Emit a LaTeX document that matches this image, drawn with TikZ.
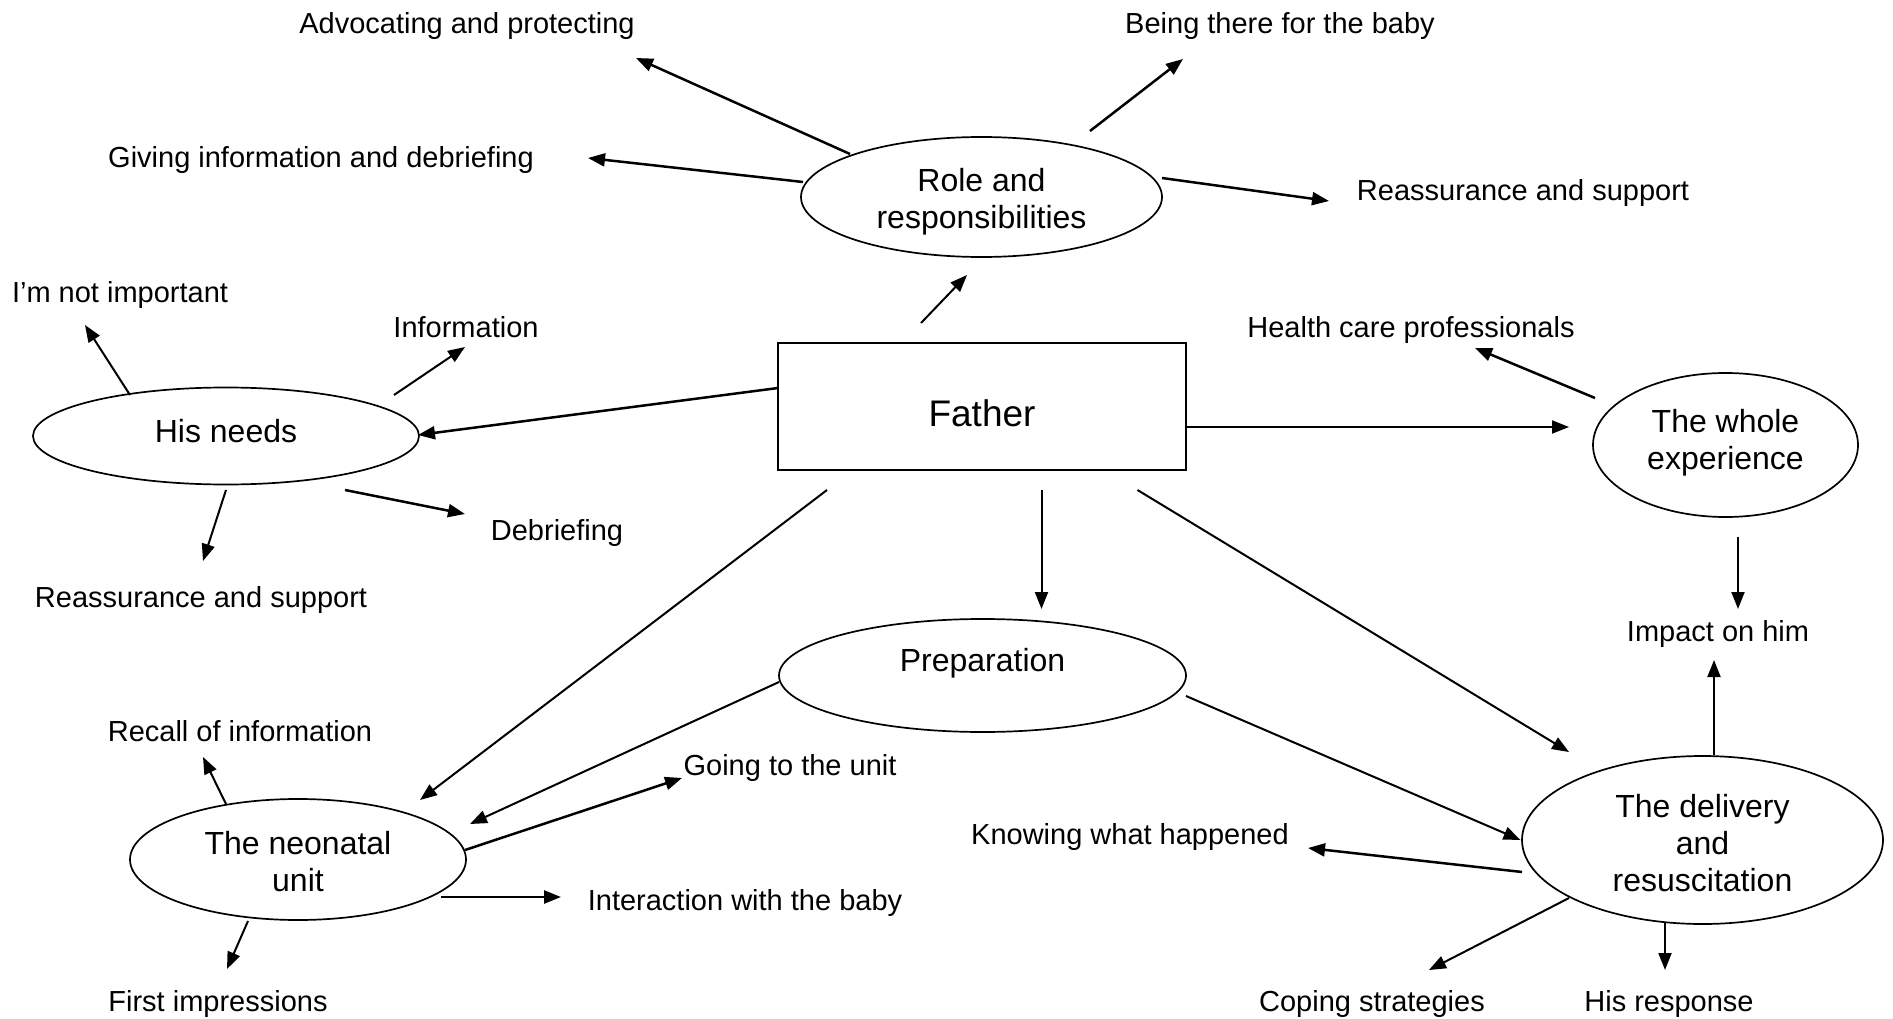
\documentclass[tikz,border=0pt]{standalone}
\usepackage{fontspec}
\setmainfont{Liberation Sans}
\usetikzlibrary{shapes.geometric,arrows.meta}
\begin{document}
\begin{tikzpicture}[x=1pt,y=-1pt,
  leaf/.style={font=\fontsize{29}{34}\selectfont, inner sep=0pt},
  topic/.style={ellipse, draw, line width=1.7pt, inner sep=0pt, align=center, font=\fontsize{32}{37}\selectfont},
  tlabel/.style={font=\fontsize{32}{37}\selectfont, align=center, inner sep=0pt},
  arr/.style={line width=2.5pt, -{Triangle[length=17pt,width=13pt]}},
  longarr/.style={line width=2pt, -{Triangle[length=17pt,width=13pt]}},
]
\useasboundingbox (0,0) rectangle (1893,1019);

% central node
\node[draw, line width=2pt, minimum width=408pt, minimum height=127pt, inner sep=0pt,
      font=\fontsize{37}{40}\selectfont] (father) at (982,406.5) {\raisebox{-7pt}[\height][\depth]{Father}};

% topic ellipses
\node[topic, minimum width=361pt, minimum height=120pt,
      label={[tlabel, yshift=-4.7pt]center:Role and\\responsibilities}] (role) at (981.5,197) {};
\node[topic, minimum width=386pt, minimum height=97pt] (needs) at (226,436) {\raisebox{5pt}[\height][\depth]{His needs}};
\node[topic, minimum width=265pt, minimum height=144pt,
      label={[tlabel, yshift=2pt]center:The whole\\experience}] (whole) at (1725.5,445) {};
\node[topic, minimum width=407pt, minimum height=113pt] (prep) at (982.5,675.5) {\raisebox{12pt}[\height][\depth]{Preparation}};
\node[topic, minimum width=336pt, minimum height=121pt,
      label={[tlabel, yshift=-2.4pt]center:The neonatal\\unit}] (neo) at (298,859.5) {};
\node[topic, minimum width=361pt, minimum height=168pt,
      label={[tlabel, yshift=-3.4pt]center:The delivery\\and\\resuscitation}] (deliv) at (1702.5,840) {};

% leaf labels
\node[leaf] (adv) at (467,26) {Advocating and protecting};
\node[leaf] (being) at (1280,26) {Being there for the baby};
\node[leaf] (giving) at (321,160.5) {Giving information and debriefing};
\node[leaf] (reassR) at (1523,193) {Reassurance and support};
\node[leaf] (notimp) at (120,295.5) {I’m not important};
\node[leaf] (info) at (466,327) {Information};
\node[leaf] (hcp) at (1411,330.5) {Health care professionals};
\node[leaf] (debrief) at (557,532.5) {Debriefing};
\node[leaf] (reassL) at (201,599.5) {Reassurance and support};
\node[leaf] (impact) at (1718,633.5) {Impact on him};
\node[leaf] (recall) at (240,731) {Recall of information};
\node[leaf] (going) at (790,767.5) {Going to the unit};
\node[leaf] (knowing) at (1130,836.5) {Knowing what happened};
\node[leaf] (interact) at (745,902.5) {Interaction with the baby};
\node[leaf] (first) at (218,1003.5) {First impressions};
\node[leaf] (coping) at (1372,1003.5) {Coping strategies};
\node[leaf] (hisresp) at (1669,1003.5) {His response};

% role and responsibilities
\draw[arr] ([shift={(-131.5,-43)}]role.center) -- ([shift={(169,32)}]adv.center);
\draw[arr] ([shift={(-178.5,-15)}]role.center) -- ([shift={(267,-2.5)}]giving.center);
\draw[arr] ([shift={(108.5,-66)}]role.center) -- ([shift={(-97,33)}]being.center);
\draw[arr] ([shift={(180.5,-19)}]role.center) -- ([shift={(-194,8)}]reassR.center);
% from father
\draw[longarr] ([shift={(-61,-83.5)}]father.center) -- ([shift={(-14.5,78)}]role.center);
\draw[arr] ([shift={(-204,-18.5)}]father.center) -- ([shift={(192,-1)}]needs.center);
\draw[longarr] ([shift={(204,20.5)}]father.center) -- ([shift={(-156.5,-18)}]whole.center);
\draw[longarr] ([shift={(59.5,83.5)}]father.center) -- ([shift={(59,-66.5)}]prep.center);
\draw[longarr] ([shift={(-155,83.5)}]father.center) -- ([shift={(122,-59.5)}]neo.center);
\draw[longarr] ([shift={(155.5,83.5)}]father.center) -- ([shift={(-133.5,-88)}]deliv.center);
% his needs
\draw[longarr] ([shift={(-96,-41)}]needs.center) -- ([shift={(-35,29.5)}]notimp.center);
\draw[longarr] ([shift={(168,-41)}]needs.center) -- ([shift={(-1,20)}]info.center);
\draw[longarr] ([shift={(0,54)}]needs.center) -- ([shift={(2,-38.5)}]reassL.center);
\draw[arr] ([shift={(119,54)}]needs.center) -- ([shift={(-92,-18.5)}]debrief.center);
% whole experience
\draw[arr] ([shift={(-130.5,-47)}]whole.center) -- ([shift={(64,17.5)}]hcp.center);
\draw[longarr] ([shift={(12.5,92)}]whole.center) -- ([shift={(20,-24.5)}]impact.center);
% preparation
\draw[longarr] ([shift={(-203.5,6.5)}]prep.center) -- ([shift={(172,-35.5)}]neo.center);
\draw[longarr] ([shift={(203.5,20.5)}]prep.center) -- ([shift={(-182,0)}]deliv.center);
% neonatal unit
\draw[longarr] ([shift={(-72,-55.5)}]neo.center) -- ([shift={(-37,26)}]recall.center);
\draw[arr] ([shift={(167,-9.5)}]neo.center) -- ([shift={(-108,10.5)}]going.center);
\draw[arr] ([shift={(143,37.5)}]neo.center) -- ([shift={(-184,-5.5)}]interact.center);
\draw[longarr] ([shift={(-50,61.5)}]neo.center) -- ([shift={(9,-34.5)}]first.center);
% delivery and resuscitation
\draw[longarr] ([shift={(11.5,-85)}]deliv.center) -- ([shift={(-4,26.5)}]impact.center);
\draw[arr] ([shift={(-180.5,32)}]deliv.center) -- ([shift={(178,11.5)}]knowing.center);
\draw[longarr] ([shift={(-133.5,58)}]deliv.center) -- ([shift={(57,-33.5)}]coping.center);
\draw[longarr] ([shift={(-37.5,82)}]deliv.center) -- ([shift={(-4,-33.5)}]hisresp.center);
\end{tikzpicture}
\end{document}
